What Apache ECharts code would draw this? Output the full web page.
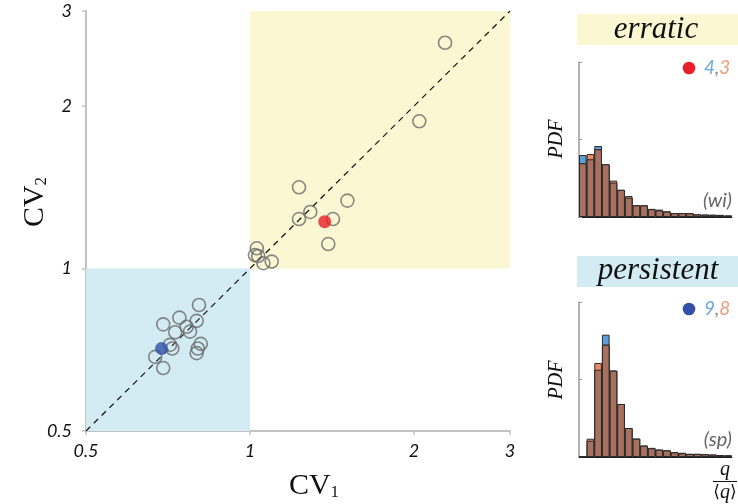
<!DOCTYPE html>
<html>
<head>
<meta charset="utf-8">
<script src="https://cdn.jsdelivr.net/npm/echarts@6/dist/echarts.min.js"></script>
<style>
  html, body { margin: 0; padding: 0; background: #fff; }
  #chart { width: 738px; height: 504px; }
</style>
</head>
<body>
<div id="chart"></div>
<script>
// CV1 / CV2 of the individual series (hollow markers)
const cvPoints = [
  [2.28, 2.62], [2.045, 1.874], [1.23, 1.414], [1.509, 1.336], [1.29, 1.273],
  [1.23, 1.235], [1.42, 1.235], [1.392, 1.11], [1.029, 1.09], [1.021, 1.059],
  [1.035, 1.055], [1.058, 1.023], [1.096, 1.03],
  [0.806, 0.856], [0.693, 0.788], [0.742, 0.811], [0.798, 0.80], [0.765, 0.78],
  [0.776, 0.764], [0.729, 0.762], [0.713, 0.722], [0.72, 0.711], [0.67, 0.686],
  [0.693, 0.654], [0.812, 0.725], [0.802, 0.711], [0.798, 0.697]
];
// highlighted examples
const erraticPoint = [1.371, 1.221];    // (wi)
const persistentPoint = [0.688, 0.711]; // (sp)

// regime boxes
const erraticBox = [[1, 1], [3, 3]];
const persistentBox = [[0.5, 0.5], [1, 1]];
const diagonal = [[0.5, 0.5], [3, 3]];
const axisTicks = [0.5, 1, 2, 3];

// histogram bins of q/<q>
const bins = ['1','2','3','4','5','6','7','8','9','10','11','12','13','14','15','16','17','18','19','20'];
const wiBlue   = [0.80, 0.745, 0.916, 0.68, 0.443, 0.35, 0.25, 0.15, 0.15, 0.105, 0.095, 0.072, 0.052, 0.05, 0.048, 0.032, 0.03, 0.028, 0.028, 0.018];
const wiOrange = [0.693, 0.813, 0.873, 0.68, 0.469, 0.35, 0.27, 0.15, 0.15, 0.10, 0.085, 0.07, 0.05, 0.05, 0.048, 0.032, 0.03, 0.028, 0.02, 0.018];
const spBlue   = [0, 0.21, 1.126, 1.578, 1.114, 0.684, 0.374, 0.236, 0.146, 0.118, 0.094, 0.085, 0.06, 0.055, 0.04, 0.04, 0.035, 0.03, 0.025, 0.02];
const spOrange = [0, 0.236, 1.213, 1.449, 1.114, 0.684, 0.374, 0.236, 0.146, 0.112, 0.094, 0.085, 0.06, 0.048, 0.04, 0.04, 0.035, 0.03, 0.025, 0.02];

const BLUE = '#5d9fd6', ORANGE = '#ec8a66', BROWN = '#a8705f', EDGE = '#2b2b2b';
const SERIF = '"Liberation Serif", "DejaVu Serif", serif';
const SANS = 'Lato, "Open Sans", sans-serif';

const overlap = (a, b) => a.map((v, i) => Math.min(v, b[i]));

function histSeries(blue, orange, xi, yi) {
  const common = {
    type: 'bar', xAxisIndex: xi, yAxisIndex: yi, barWidth: '100%', barGap: '-100%',
    silent: true, animation: false
  };
  return [
    Object.assign({}, common, { data: blue, itemStyle: { color: BLUE, borderColor: EDGE, borderWidth: 1 } }),
    Object.assign({}, common, { data: orange, itemStyle: { color: ORANGE, borderColor: EDGE, borderWidth: 1 } }),
    Object.assign({}, common, { data: overlap(blue, orange), itemStyle: { color: BROWN, borderColor: EDGE, borderWidth: 1 } })
  ];
}

function histAxes(gi) {
  return {
    x: {
      type: 'category', gridIndex: gi, data: bins, boundaryGap: true,
      axisLine: { lineStyle: { color: '#222', width: 1 } },
      axisTick: { show: false }, axisLabel: { show: false }
    },
    y: {
      type: 'value', gridIndex: gi, min: 0, max: 2, interval: 1,
      axisLine: { show: true, lineStyle: { color: '#9a9a9a', width: 1.5 } },
      axisTick: { show: true, inside: true, length: 3, lineStyle: { color: '#9a9a9a' } },
      axisLabel: { show: false }, splitLine: { show: false }
    }
  };
}
const h1 = histAxes(1), h2 = histAxes(2);

const logAxis = {
  type: 'log', logBase: 10, min: 0.5, max: 3,
  axisLine: { show: true, lineStyle: { color: '#c2c2c2', width: 2 } },
  axisTick: { show: true, customValues: axisTicks, length: 4, lineStyle: { color: '#c2c2c2', width: 1.5 } },
  axisLabel: {
    customValues: axisTicks, color: '#111', fontSize: 18, fontStyle: 'italic', fontFamily: SANS,
    formatter: v => String(Math.round(v * 10) / 10)
  },
  splitLine: { show: false }, minorTick: { show: false }
};

const fracBracket = { fontFamily: '"DejaVu Serif", serif', fontSize: 17, fill: '#111' };

const option = {
  animation: false,
  grid: [
    { left: 86, top: 11, width: 424, height: 420 },
    { left: 579, top: 62, width: 153, height: 155 },
    { left: 579, top: 302, width: 153, height: 155 }
  ],
  xAxis: [
    Object.assign({}, logAxis, { gridIndex: 0, axisLabel: Object.assign({}, logAxis.axisLabel, { margin: 11 }) }),
    h1.x, h2.x
  ],
  yAxis: [
    Object.assign({}, logAxis, { gridIndex: 0, axisLabel: Object.assign({}, logAxis.axisLabel, { margin: 14 }) }),
    h1.y, h2.y
  ],
  series: [
    {
      type: 'line', xAxisIndex: 0, yAxisIndex: 0, data: diagonal, symbol: 'none', silent: true,
      lineStyle: { color: '#111', width: 1.2, type: [6, 5] },
      markArea: {
        silent: true,
        data: [
          [{ coord: erraticBox[0], itemStyle: { color: '#faf7d2' } }, { coord: erraticBox[1] }],
          [{ coord: persistentBox[0], itemStyle: { color: '#d3ebf3' } }, { coord: persistentBox[1] }]
        ]
      },
      z: 2
    },
    {
      type: 'scatter', xAxisIndex: 0, yAxisIndex: 0, data: cvPoints, symbolSize: 13, silent: true,
      itemStyle: { color: 'rgba(0,0,0,0)', borderColor: '#6a6a6a', borderWidth: 1.6 }, z: 3
    },
    {
      type: 'scatter', xAxisIndex: 0, yAxisIndex: 0, data: [erraticPoint], symbolSize: 13, silent: true,
      itemStyle: { color: '#ea1f28' }, z: 4
    },
    {
      type: 'scatter', xAxisIndex: 0, yAxisIndex: 0, data: [persistentPoint], symbolSize: 13, silent: true,
      itemStyle: { color: '#3350a8' }, z: 4
    }
  ].concat(histSeries(wiBlue, wiOrange, 1, 1), histSeries(spBlue, spOrange, 2, 2)),
  graphic: [
    // axis titles
    {
      type: 'text', x: 35, y: 202, rotation: Math.PI / 2,
      style: {
        text: '{a|CV}{b|2}', align: 'center', verticalAlign: 'middle',
        rich: {
          a: { fontFamily: SERIF, fontSize: 30, fill: '#111' },
          b: { fontFamily: SERIF, fontSize: 17, fill: '#111', padding: [14, 0, 0, 0] }
        }
      }
    },
    {
      type: 'text', x: 314, y: 486,
      style: {
        text: '{a|CV}{b|1}', align: 'center', verticalAlign: 'middle',
        rich: {
          a: { fontFamily: SERIF, fontSize: 30, fill: '#111' },
          b: { fontFamily: SERIF, fontSize: 17, fill: '#111', padding: [14, 0, 0, 0] }
        }
      }
    },
    // panel headers
    { type: 'rect', shape: { x: 577, y: 14, width: 161, height: 31 }, style: { fill: '#faf7d2' } },
    {
      type: 'text', x: 656, y: 30,
      style: { text: 'erratic', align: 'center', verticalAlign: 'middle', fontFamily: SERIF, fontStyle: 'italic', fontSize: 31, fill: '#111' }
    },
    { type: 'rect', shape: { x: 577, y: 256, width: 161, height: 31 }, style: { fill: '#d3ebf3' } },
    {
      type: 'text', x: 658, y: 271,
      style: { text: 'persistent', align: 'center', verticalAlign: 'middle', fontFamily: SERIF, fontStyle: 'italic', fontSize: 31, fill: '#111' }
    },
    // PDF labels
    {
      type: 'text', x: 557, y: 139, rotation: Math.PI / 2,
      style: { text: 'PDF', align: 'center', verticalAlign: 'middle', fontFamily: SERIF, fontStyle: 'italic', fontSize: 20, fill: '#111' }
    },
    {
      type: 'text', x: 557, y: 380, rotation: Math.PI / 2,
      style: { text: 'PDF', align: 'center', verticalAlign: 'middle', fontFamily: SERIF, fontStyle: 'italic', fontSize: 20, fill: '#111' }
    },
    // legends
    { type: 'circle', shape: { cx: 689, cy: 68, r: 6.3 }, style: { fill: '#ea1f28' } },
    {
      type: 'text', x: 704, y: 68,
      style: {
        text: '{b|4}{g|,}{o|3}', verticalAlign: 'middle',
        rich: {
          b: { fontFamily: SANS, fontStyle: 'italic', fontSize: 19, fill: '#6aa7dc' },
          g: { fontFamily: SANS, fontStyle: 'italic', fontSize: 19, fill: '#8a8a8a' },
          o: { fontFamily: SANS, fontStyle: 'italic', fontSize: 19, fill: '#f09c7c' }
        }
      }
    },
    { type: 'circle', shape: { cx: 689, cy: 309, r: 6.3 }, style: { fill: '#3350a8' } },
    {
      type: 'text', x: 704, y: 309,
      style: {
        text: '{b|9}{g|,}{o|8}', verticalAlign: 'middle',
        rich: {
          b: { fontFamily: SANS, fontStyle: 'italic', fontSize: 19, fill: '#6aa7dc' },
          g: { fontFamily: SANS, fontStyle: 'italic', fontSize: 19, fill: '#8a8a8a' },
          o: { fontFamily: SANS, fontStyle: 'italic', fontSize: 19, fill: '#f09c7c' }
        }
      }
    },
    // dataset tags
    {
      type: 'text', x: 732, y: 201,
      style: { text: '(wi)', align: 'right', verticalAlign: 'middle', fontFamily: SANS, fontStyle: 'italic', fontSize: 20, fill: '#666' }
    },
    {
      type: 'text', x: 732, y: 440,
      style: { text: '(sp)', align: 'right', verticalAlign: 'middle', fontFamily: SANS, fontStyle: 'italic', fontSize: 20, fill: '#666' }
    },
    // q / <q> fraction
    {
      type: 'text', x: 725, y: 470,
      style: { text: 'q', align: 'center', verticalAlign: 'middle', fontFamily: SERIF, fontStyle: 'italic', fontSize: 20, fill: '#111' }
    },
    { type: 'line', shape: { x1: 713, y1: 481.5, x2: 737, y2: 481.5 }, style: { stroke: '#111', lineWidth: 1 } },
    {
      type: 'text', x: 725, y: 493,
      style: {
        text: '{k|⟨}{q|q}{k|⟩}', align: 'center', verticalAlign: 'middle',
        rich: {
          k: fracBracket,
          q: { fontFamily: SERIF, fontStyle: 'italic', fontSize: 20, fill: '#111' }
        }
      }
    }
  ]
};

const chart = echarts.init(document.getElementById('chart'), null, { renderer: 'canvas' });
chart.setOption(option);
</script>
</body>
</html>
